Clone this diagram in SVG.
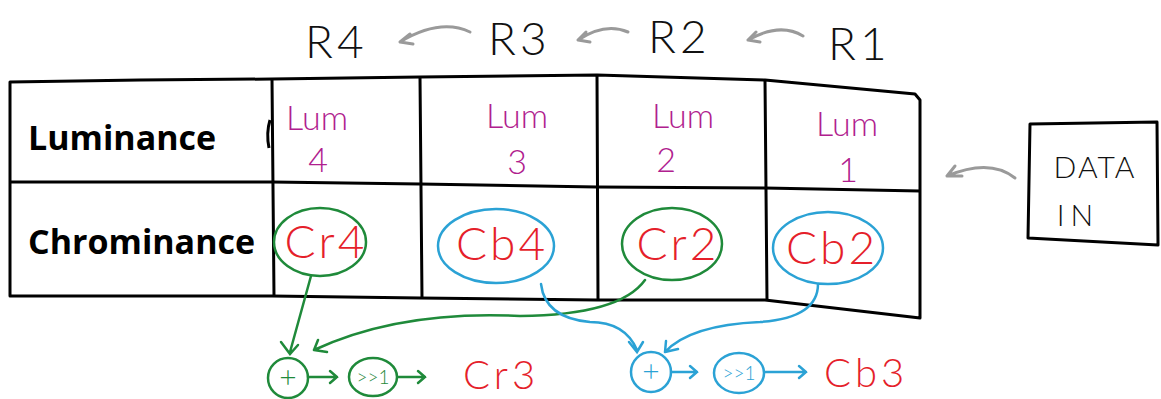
<svg xmlns="http://www.w3.org/2000/svg" width="1161" height="399" viewBox="0 0 1161 399">
<style>
.hand{font-family:"Lato","Liberation Sans",sans-serif;font-weight:300}
.reg{font-size:46px;fill:#111;letter-spacing:4px}
.lum{font-size:34px;fill:#b0208e}
.val{font-size:46px;fill:#e51f2b;letter-spacing:3px}
.res{font-size:40px;fill:#e51f2b;letter-spacing:4px}
.hdr{font-family:"Open Sans","Liberation Sans",sans-serif;font-weight:bold;font-size:34px;fill:#000}
.grid{fill:none;stroke:#000;stroke-width:3;stroke-linejoin:round}
.gray{fill:none;stroke:#9a9a9a;stroke-width:3;stroke-linecap:round}
.g{fill:none;stroke:#1f8a3a;stroke-width:2.5;stroke-linecap:round}
.b{fill:none;stroke:#2ba2d5;stroke-width:2.5;stroke-linecap:round}
.op{font-family:"Lato","Liberation Sans",sans-serif;font-weight:300;font-size:30px}
.sh{font-family:"Lato","Liberation Sans",sans-serif;font-weight:300;font-size:19px}
</style>
<rect width="1161" height="399" fill="#fff"/>
<g id="registers">
<text class="hand reg" x="305" y="58">R4</text>
<text class="hand reg" x="488" y="55">R3</text>
<text class="hand reg" x="648" y="53">R2</text>
<text class="hand reg" x="828" y="60">R1</text>
</g>
<g id="table">
<path class="grid" d="M10,82 L140,80 L272,79 L420,77 L597,75 L765,80 L915,94 L920,100 L920,318 L765,300 L597,300 L420,298 L272,296 L10,296 Z"/>
<path class="grid" d="M10,182 L272,182 L420,184 L597,187 L765,188 L920,191"/>
<path class="grid" d="M272,79 L274,296 M420,77 L422,298 M597,75 L598,300 M765,80 L767,300"/>
<path class="grid" d="M270,120 Q266,133 269,148"/>
</g>
<g id="row-headers">
<text class="hdr" x="28" y="150">Luminance</text>
<text class="hdr" x="28" y="254">Chrominance</text>
</g>
<g id="lum-cells">
<text class="hand lum" x="317" y="130" text-anchor="middle">Lum</text>
<text class="hand lum" x="318" y="172" text-anchor="middle">4</text>
<text class="hand lum" x="517" y="128" text-anchor="middle">Lum</text>
<text class="hand lum" x="517" y="174" text-anchor="middle">3</text>
<text class="hand lum" x="683" y="128" text-anchor="middle">Lum</text>
<text class="hand lum" x="666" y="172" text-anchor="middle">2</text>
<text class="hand lum" x="847" y="136" text-anchor="middle">Lum</text>
<text class="hand lum" x="848" y="182" text-anchor="middle">1</text>
</g>
<g id="cr4">
<ellipse class="g" cx="320" cy="242" rx="46" ry="34"/>
<text class="hand val" x="326" y="258" text-anchor="middle">Cr4</text>
</g>
<g id="cb4">
<ellipse class="b" cx="496" cy="246" rx="58" ry="37"/>
<text class="hand val" x="502" y="260" text-anchor="middle">Cb4</text>
</g>
<g id="cr2">
<ellipse class="g" cx="672" cy="244" rx="50" ry="36"/>
<text class="hand val" x="678" y="260" text-anchor="middle">Cr2</text>
</g>
<g id="cb2">
<ellipse class="b" cx="828" cy="248" rx="55" ry="36"/>
<text class="hand val" x="832" y="264" text-anchor="middle">Cb2</text>
</g>
<g id="data-in">
<path class="grid" d="M1030,124 L1157,122 L1158,245 L1028,238 Z" stroke-width="2.5"/>
<text class="hand" x="1095" y="178" text-anchor="middle" font-size="30" fill="#111" letter-spacing="2">DATA</text>
<text class="hand" x="1078" y="226" text-anchor="middle" font-size="30" fill="#111" letter-spacing="6">IN</text>
</g>
<g id="green-ops">
<circle class="g" cx="288" cy="378" r="20"/>
<text class="op" x="288" y="388" text-anchor="middle" fill="#1f8a3a">+</text>
<ellipse class="g" cx="373" cy="377" rx="24" ry="19"/>
<text class="sh" x="373" y="384" text-anchor="middle" fill="#1f8a3a">&gt;&gt;1</text>
<text class="hand res" x="463" y="389">Cr3</text>
</g>
<g id="blue-ops">
<circle class="b" cx="651" cy="372" r="20"/>
<text class="op" x="651" y="382" text-anchor="middle" fill="#2ba2d5">+</text>
<ellipse class="b" cx="739" cy="373" rx="25" ry="20"/>
<text class="sh" x="739" y="380" text-anchor="middle" fill="#2ba2d5">&gt;&gt;1</text>
<text class="hand res" x="824" y="387">Cb3</text>
</g>
<g id="connectors">
<path class="gray" d="M470,32 Q440,18 400,42 M400,42 L410,34 M400,42 L413,44"/>
<path class="gray" d="M628,32 Q605,22 578,40 M578,40 L586,32 M578,40 L590,42"/>
<path class="gray" d="M803,36 Q780,22 748,40 M748,40 L756,32 M748,40 L760,42"/>
<path class="gray" d="M1015,178 Q990,158 947,176 M947,176 L955,166 M947,176 L962,176"/>
<path class="g" d="M311,276 L290,352 M281,342 L290,354 L298,345"/>
<path class="g" d="M645,280 Q620,315 520,316 Q400,310 314,350 M314,350 L318,340 M314,350 L327,352"/>
<path class="g" d="M308,377 L337,377 M330,371 L337,377 L330,383"/>
<path class="g" d="M398,377 L425,377 M418,371 L425,377 L418,383"/>
<path class="b" d="M541,284 Q545,318 590,322 Q625,322 637,350 M629,342 L637,352 L643,342"/>
<path class="b" d="M818,284 Q818,318 760,322 Q690,325 665,352 M665,352 L666,341 M665,352 L678,349"/>
<path class="b" d="M671,372 L697,372 M690,366 L697,372 L690,378"/>
<path class="b" d="M765,372 L806,372 M799,366 L806,372 L799,378"/>
</g>
</svg>
